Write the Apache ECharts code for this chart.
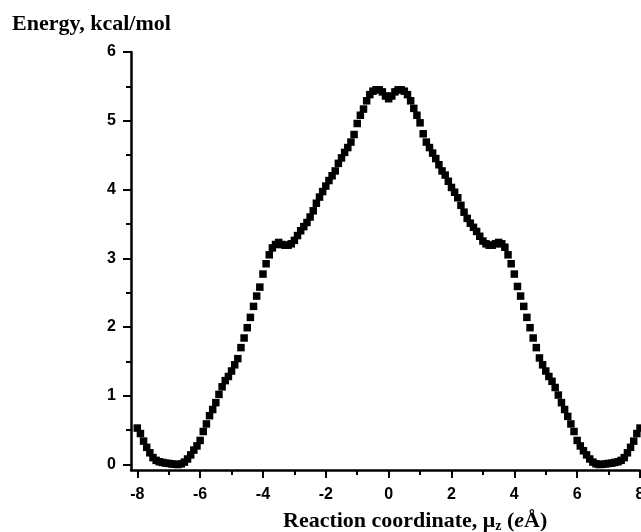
<!DOCTYPE html>
<html>
<head>
<meta charset="utf-8">
<script src="https://cdn.jsdelivr.net/npm/echarts@6/dist/echarts.min.js"></script>
<style>
html,body{margin:0;padding:0;background:#fff;}
#chart{width:641px;height:532px;}
</style>
</head>
<body>
<div id="chart"></div>
<script>
// Reaction coordinate values (e·Å)
const coordinate = [
 -8.0,-7.9,-7.8,-7.7,-7.6,-7.5,-7.4,-7.3,-7.2,-7.1,
 -7.0,-6.9,-6.8,-6.7,-6.6,-6.5,-6.4,-6.3,-6.2,-6.1,
 -6.0,-5.9,-5.8,-5.7,-5.6,-5.5,-5.4,-5.3,-5.2,-5.1,
 -5.0,-4.9,-4.8,-4.7,-4.6,-4.5,-4.4,-4.3,-4.2,-4.1,
 -4.0,-3.9,-3.8,-3.7,-3.6,-3.5,-3.4,-3.3,-3.2,-3.1,
 -3.0,-2.9,-2.8,-2.7,-2.6,-2.5,-2.4,-2.3,-2.2,-2.1,
 -2.0,-1.9,-1.8,-1.7,-1.6,-1.5,-1.4,-1.3,-1.2,-1.1,
 -1.0,-0.9,-0.8,-0.7,-0.6,-0.5,-0.4,-0.3,-0.2,-0.1,
 0.0,
 0.1,0.2,0.3,0.4,0.5,0.6,0.7,0.8,0.9,1.0,
 1.1,1.2,1.3,1.4,1.5,1.6,1.7,1.8,1.9,2.0,
 2.1,2.2,2.3,2.4,2.5,2.6,2.7,2.8,2.9,3.0,
 3.1,3.2,3.3,3.4,3.5,3.6,3.7,3.8,3.9,4.0,
 4.1,4.2,4.3,4.4,4.5,4.6,4.7,4.8,4.9,5.0,
 5.1,5.2,5.3,5.4,5.5,5.6,5.7,5.8,5.9,6.0,
 6.1,6.2,6.3,6.4,6.5,6.6,6.7,6.8,6.9,7.0,
 7.1,7.2,7.3,7.4,7.5,7.6,7.7,7.8,7.9,8.0
];
// Energy, kcal/mol
const energy = [
 0.53,0.45,0.34,0.25,0.17,0.10,0.06,0.04,0.03,0.02,
 0.015,0.008,0.003,0.0,0.01,0.035,0.08,0.14,0.21,0.27,
 0.35,0.48,0.59,0.71,0.80,0.90,1.02,1.13,1.22,1.28,
 1.36,1.45,1.54,1.70,1.84,1.99,2.14,2.30,2.45,2.58,
 2.77,2.92,3.05,3.15,3.20,3.23,3.20,3.19,3.19,3.21,
 3.26,3.33,3.40,3.46,3.52,3.60,3.69,3.80,3.89,3.97,
 4.05,4.13,4.20,4.27,4.38,4.46,4.54,4.61,4.69,4.80,
 4.96,5.08,5.17,5.29,5.38,5.43,5.45,5.45,5.42,5.36,
 5.32,
 5.36,5.42,5.45,5.45,5.43,5.38,5.29,5.18,5.08,4.97,
 4.81,4.69,4.61,4.53,4.45,4.36,4.27,4.21,4.12,4.03,
 3.96,3.88,3.77,3.67,3.58,3.51,3.45,3.39,3.32,3.25,
 3.21,3.19,3.19,3.21,3.23,3.21,3.16,3.05,2.92,2.77,
 2.59,2.45,2.30,2.14,1.99,1.84,1.70,1.55,1.45,1.36,
 1.28,1.21,1.12,1.01,0.90,0.80,0.70,0.59,0.48,0.35,
 0.27,0.20,0.14,0.08,0.035,0.01,0.0,0.003,0.008,0.015,
 0.02,0.03,0.04,0.06,0.10,0.17,0.25,0.34,0.45,0.53
];
const xMajorTicks = [-8,-6,-4,-2,0,2,4,6,8];
const xMinorTicks = [-7,-5,-3,-1,1,3,5,7];
const yMajorTicks = [0,1,2,3,4,5,6];
const yMinorTicks = [0.5,1.5,2.5,3.5,4.5,5.5];

const points = coordinate.map((x, i) => [x, energy[i]]);

const X_MIN = -8.2, X_MAX = 8.0, Y_MIN = -0.08, Y_MAX = 6;
const lab = {fontFamily: 'Liberation Sans', fontWeight: 'bold', fontSize: 16, color: '#000'};

const chart = echarts.init(document.getElementById('chart'), null, {renderer: 'canvas'});
chart.setOption({
  animation: false,
  backgroundColor: '#fff',
  grid: {left: 131, right: 1, top: 52, bottom: 62, containLabel: false, outerBoundsMode: 'none'},
  xAxis: [
    {
      type: 'value', position: 'bottom', min: X_MIN, max: X_MAX,
      splitLine: {show: false},
      axisLine: {onZero: false, lineStyle: {color: '#000', width: 2.5}},
      axisTick: {show: true, customValues: xMajorTicks, length: 8, lineStyle: {color: '#000', width: 2}},
      axisLabel: Object.assign({customValues: xMajorTicks, margin: 17}, lab)
    },
    {
      type: 'value', position: 'bottom', min: X_MIN, max: X_MAX,
      splitLine: {show: false},
      axisLine: {show: false, onZero: false},
      axisTick: {show: true, customValues: xMinorTicks, length: 5, lineStyle: {color: '#000', width: 2}},
      axisLabel: {show: false}
    }
  ],
  yAxis: [
    {
      type: 'value', position: 'left', min: Y_MIN, max: Y_MAX,
      splitLine: {show: false},
      axisLine: {show: true, onZero: false, lineStyle: {color: '#000', width: 2.5}},
      axisTick: {show: true, customValues: yMajorTicks, length: 8, lineStyle: {color: '#000', width: 2}},
      axisLabel: Object.assign({customValues: yMajorTicks, margin: 15}, lab)
    },
    {
      type: 'value', position: 'left', min: Y_MIN, max: Y_MAX,
      splitLine: {show: false},
      axisLine: {show: false, onZero: false},
      axisTick: {show: true, customValues: yMinorTicks, length: 5, lineStyle: {color: '#000', width: 2}},
      axisLabel: {show: false}
    }
  ],
  graphic: [
    {
      type: 'text', left: 12, top: 13,
      style: {text: 'Energy, kcal/mol', font: 'bold 22px "Liberation Serif"', fill: '#000'}
    },
    {
      type: 'text', left: 283, top: 509,
      style: {
        text: '{a|Reaction coordinate, μ}{s|z}{a| (}{i|e}{a|Å)}',
        fill: '#000',
        rich: {
          a: {fontFamily: 'Liberation Serif', fontWeight: 'bold', fontSize: 22, lineHeight: 24, verticalAlign: 'middle'},
          s: {fontFamily: 'Liberation Serif', fontWeight: 'bold', fontSize: 14, lineHeight: 24, verticalAlign: 'bottom', padding: [10, 0, 0, 0]},
          i: {fontFamily: 'Liberation Serif', fontWeight: 'bold', fontStyle: 'italic', fontSize: 22, lineHeight: 24, verticalAlign: 'middle'}
        }
      }
    }
  ],
  series: [{
    type: 'scatter',
    xAxisIndex: 0, yAxisIndex: 0,
    data: points,
    symbol: 'rect',
    symbolSize: 7.5,
    clip: false,
    itemStyle: {color: '#000', opacity: 1}
  }]
});
</script>
</body>
</html>
